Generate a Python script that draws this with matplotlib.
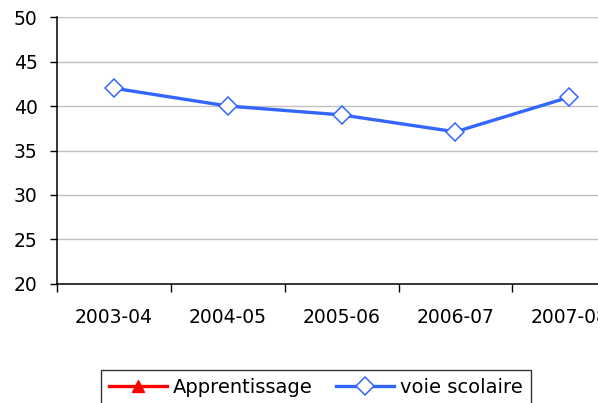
import numpy as np
import matplotlib.pyplot as plt

# =========================================
# DATA
# =========================================
years = ["2003-04", "2004-05", "2005-06", "2006-07", "2007-08"]
apprentissage = [np.nan, np.nan, np.nan, np.nan, np.nan]
voie_scolaire = [42.0, 40.0, 39.0, 37.1, 41.0]

y_ticks = [20, 25, 30, 35, 40, 45, 50]

# =========================================
# PLOT
# =========================================
plt.rcParams["font.family"] = "DejaVu Sans"
FS = 13.5

fig = plt.figure(figsize=(5.98, 4.03), dpi=100)
ax = fig.add_axes([0.0953, 0.2953, 0.952, 0.6625])

x = np.arange(len(years))

ax.plot(x, apprentissage, color="#ff0000", linewidth=2.4,
        marker="^", markersize=8, markerfacecolor="#ff0000",
        markeredgecolor="#ff0000", label="Apprentissage")
ax.plot(x, voie_scolaire, color="#3366ff", linewidth=2.4,
        marker="D", markersize=9.5, markerfacecolor="white",
        markeredgecolor="#3366ff", markeredgewidth=1.1,
        label="voie scolaire", zorder=3)

ax.set_xlim(-0.5, len(years) - 0.5)
ax.set_ylim(20, 50)
ax.set_yticks(y_ticks)
ax.set_yticklabels([str(t) for t in y_ticks], fontsize=FS)

# category labels centred, tick marks on category boundaries
ax.set_xticks(np.arange(len(years) + 1) - 0.5)
ax.set_xticklabels([])
ax.set_xticks(x, minor=True)
ax.set_xticklabels(years, minor=True, fontsize=FS)
ax.tick_params(axis="x", which="minor", length=0, pad=17)
ax.tick_params(axis="x", which="major", length=6, width=1, direction="out")
ax.tick_params(axis="y", length=5, width=1, direction="out", pad=9)

ax.grid(axis="y", color="#c0c0c0", linewidth=1)
ax.set_axisbelow(True)

for side in ["top", "right"]:
    ax.spines[side].set_visible(False)
for side in ["left", "bottom"]:
    ax.spines[side].set_linewidth(1.1)
    ax.spines[side].set_color("black")

leg = fig.legend(loc="upper center", bbox_to_anchor=(316 / 598, 1 - 370 / 403),
                 ncol=2, fontsize=14, frameon=True, fancybox=False,
                 handlelength=3.0, handletextpad=0.3, columnspacing=1.2,
                 borderpad=0.4, borderaxespad=0)
leg.get_frame().set_edgecolor("black")
leg.get_frame().set_linewidth(1)

fig.savefig("out.png", dpi=100)
